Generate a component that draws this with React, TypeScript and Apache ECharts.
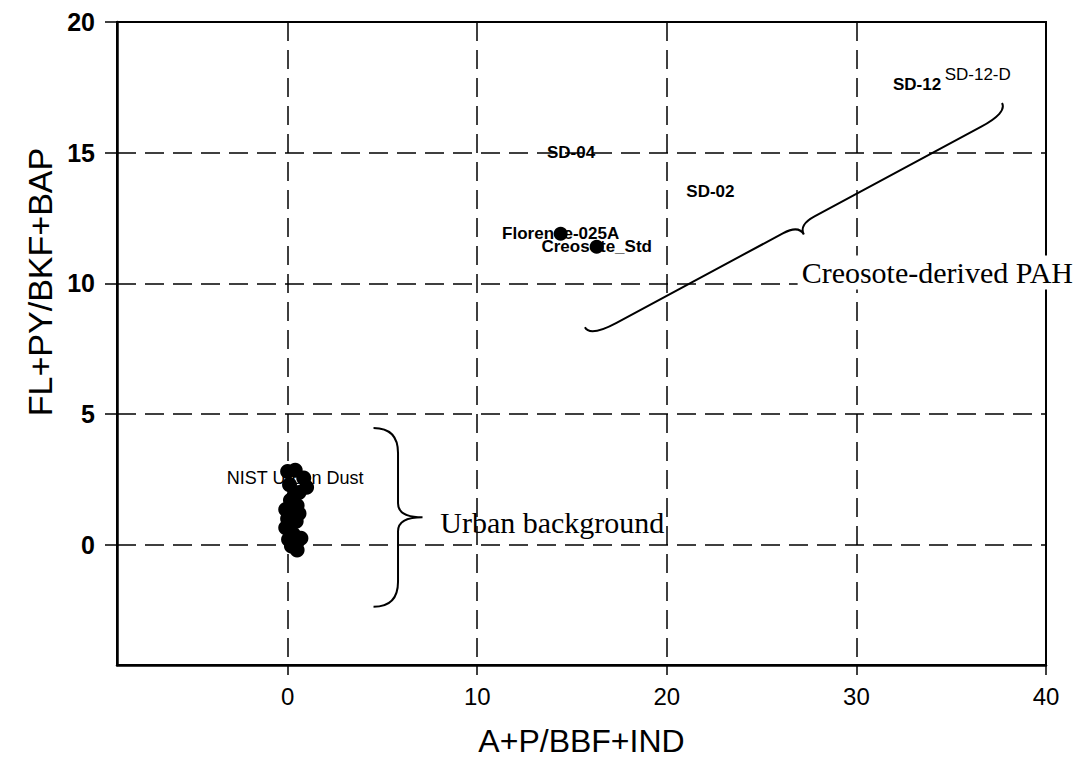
import React, { useEffect, useRef } from "react";
import * as echarts from "echarts";

// ---- data ----
const clusterX = [0.0, 0.4, 0.85, 1.0, 0.6, 0.15, 0.5, -0.1, 0.25, 0.45, -0.1, 0.3, 0.05, 0.7, 0.2, 0.5, 0.1, 0.35, 0.6, 0.0];
const clusterY = [2.8, 2.85, 2.55, 2.2, 2.0, 1.7, 1.5, 1.35, 1.1, 0.9, 0.65, 0.4, 0.2, 0.25, -0.05, -0.2, 2.3, 1.9, 1.2, 1.0];

const creosoteNames = ["Florence-025A", "Creosote_Std"];
const creosoteX = [14.4, 16.3];
const creosoteY = [11.9, 11.4];

const sdNames = ["SD-04", "SD-02", "SD-12", "SD-12-D"];
const sdX = [14.95, 22.3, 33.2, 36.4];
const sdY = [15.0, 13.5, 17.6, 18.0];

const nistName = "NIST Urban Dust";
const nistX = 0.4;
const nistY = 2.55;

const xTicks = [0, 10, 20, 30, 40];
const yTicks = [0, 5, 10, 15, 20];

// annotation anchors (data units)
const braceStart = [[4.53, 4.47], [15.68, 8.32]];
const braceEnd = [[4.53, -2.37], [37.68, 16.9]];
const noteTexts = ["Urban background", "Creosote-derived PAH"];
const noteX = [8.05, 26.9];
const noteY = [0.84, 10.42];

// styles
const braceDepthPx = [-49, 22];
const braceEndCurl = [25, 30];
const braceTipCurl = [14, 18];
const labelBold = { "Florence-025A": true, "Creosote_Std": true, "SD-04": true, "SD-02": true, "SD-12": true } as Record<string, boolean>;

function bracePath(ax: number, ay: number, bx: number, by: number, depth: number, endCurl: number, tipCurl: number) {
  const dx = bx - ax, dy = by - ay;
  const L = Math.hypot(dx, dy);
  const ux = dx / L, uy = dy / L;
  const nx = -uy, ny = ux;
  const P = (s: number, t: number) => `${(ax + ux * s + nx * t).toFixed(2)} ${(ay + uy * s + ny * t).toFixed(2)}`;
  const h = depth, m = depth / 2, half = L / 2;
  return (
    `M ${P(0, 0)} Q ${P(0, m)} ${P(endCurl, m)} L ${P(half - tipCurl, m)} Q ${P(half, m)} ${P(half, h)} ` +
    `Q ${P(half, m)} ${P(half + tipCurl, m)} L ${P(L - endCurl, m)} Q ${P(L, m)} ${P(L, 0)}`
  );
}

export default function App() {
  const ref = useRef<HTMLDivElement>(null);
  useEffect(() => {
    if (!ref.current) return;
    const chart = echarts.init(ref.current, null, { renderer: "svg" });
    const sans = '"Liberation Sans", Arial, sans-serif';
    const serif = '"Liberation Serif", "Times New Roman", serif';

    const mk = (n: string, x: number, y: number, size: number) => ({
      name: n,
      value: [x, y],
      label: { fontWeight: labelBold[n] ? "bold" : "normal", fontSize: size },
    });
    const labelItems = [
      ...creosoteNames.map((n, i) => mk(n, creosoteX[i], creosoteY[i], 17)),
      ...sdNames.map((n, i) => mk(n, sdX[i], sdY[i], 17)),
      mk(nistName, nistX, nistY, 18),
    ];

    chart.setOption({
      animation: false,
      backgroundColor: "#ffffff",
      grid: {
        left: 117,
        right: 30,
        top: 22,
        bottom: 103,
        show: true,
        borderColor: "#000",
        borderWidth: 2,
        backgroundColor: "transparent",
      },
      xAxis: {
        type: "value",
        min: -9,
        max: 40,
        splitNumber: 5,
        name: "A+P/BBF+IND",
        nameLocation: "middle",
        nameGap: 60,
        nameTextStyle: { fontFamily: sans, fontSize: 32, color: "#000" },
        axisLine: { show: true, onZero: false, lineStyle: { color: "#000", width: 2.5 } },
        axisTick: { show: true, inside: false, length: 10, customValues: xTicks, lineStyle: { color: "#000", width: 1.5 } },
        axisLabel: { customValues: xTicks, margin: 19, fontFamily: sans, fontSize: 24, color: "#000" },
        splitLine: { show: true, lineStyle: { color: "#000", width: 1.5, type: [19, 9] } },
      },
      yAxis: {
        type: "value",
        min: -4.6,
        max: 20,
        splitNumber: 5,
        axisLine: { show: true, onZero: false, lineStyle: { color: "#000", width: 2.5 } },
        axisTick: { show: true, inside: false, length: 12, customValues: yTicks, lineStyle: { color: "#000", width: 1.5 } },
        axisLabel: { customValues: yTicks, margin: 22, fontFamily: sans, fontSize: 25, fontWeight: "bold", color: "#000" },
        splitLine: { show: true, lineStyle: { color: "#000", width: 1.5, type: [19, 9] } },
      },
      graphic: [
        {
          type: "text",
          x: 40,
          y: 282,
          rotation: Math.PI / 2,
          style: { text: "FL+PY/BKF+BAP", font: `34px ${sans}`, fill: "#000", align: "center", verticalAlign: "middle" },
        },
      ],
      series: [
        {
          name: "labels",
          type: "scatter",
          z: 2,
          symbol: "circle",
          symbolSize: 1,
          itemStyle: { color: "rgba(0,0,0,0)", opacity: 1 },
          label: { show: true, position: "inside", formatter: "{b}", fontFamily: sans, fontSize: 17, color: "#000", opacity: 1 },
          data: labelItems,
        },
        {
          name: "Urban background samples",
          type: "scatter",
          z: 3,
          symbolSize: 15,
          itemStyle: { color: "#000", opacity: 1 },
          data: clusterX.map((x, i) => [x, clusterY[i]]),
        },
        {
          name: "Creosote samples",
          type: "scatter",
          z: 3,
          symbolSize: 14,
          itemStyle: { color: "#000", opacity: 1 },
          data: creosoteX.map((x, i) => [x, creosoteY[i]]),
        },
        {
          name: "braces",
          type: "custom",
          z: 4,
          clip: false,
          encode: { x: [0, 2], y: [1, 3] },
          data: braceStart.map((s, i) => [s[0], s[1], braceEnd[i][0], braceEnd[i][1]]),
          renderItem: (params: any, api: any) => {
            const i = params.dataIndex;
            const a = api.coord([api.value(0), api.value(1)]);
            const b = api.coord([api.value(2), api.value(3)]);
            return {
              type: "path",
              shape: { pathData: bracePath(a[0], a[1], b[0], b[1], braceDepthPx[i], braceEndCurl[i], braceTipCurl[i]) },
              style: { fill: "none", stroke: "#000", lineWidth: 2 },
            };
          },
        },
        {
          name: "notes",
          type: "custom",
          z: 5,
          clip: false,
          data: noteX.map((x, i) => [x, noteY[i]]),
          renderItem: (params: any, api: any) => {
            const i = params.dataIndex;
            const p = api.coord([api.value(0), api.value(1)]);
            return {
              type: "text",
              x: p[0],
              y: p[1],
              style: {
                text: noteTexts[i],
                font: `30px ${serif}`,
                fill: "#000",
                align: "left",
                verticalAlign: "middle",
                backgroundColor: i === 1 ? "#ffffff" : undefined,
                padding: i === 1 ? [2, 4, 2, 4] : 0,
              },
            };
          },
        },
      ],
    });
    return () => chart.dispose();
  }, []);
  return <div ref={ref} style={{ position: "fixed", left: 0, top: 0, width: 1076, height: 768 }} />;
}
